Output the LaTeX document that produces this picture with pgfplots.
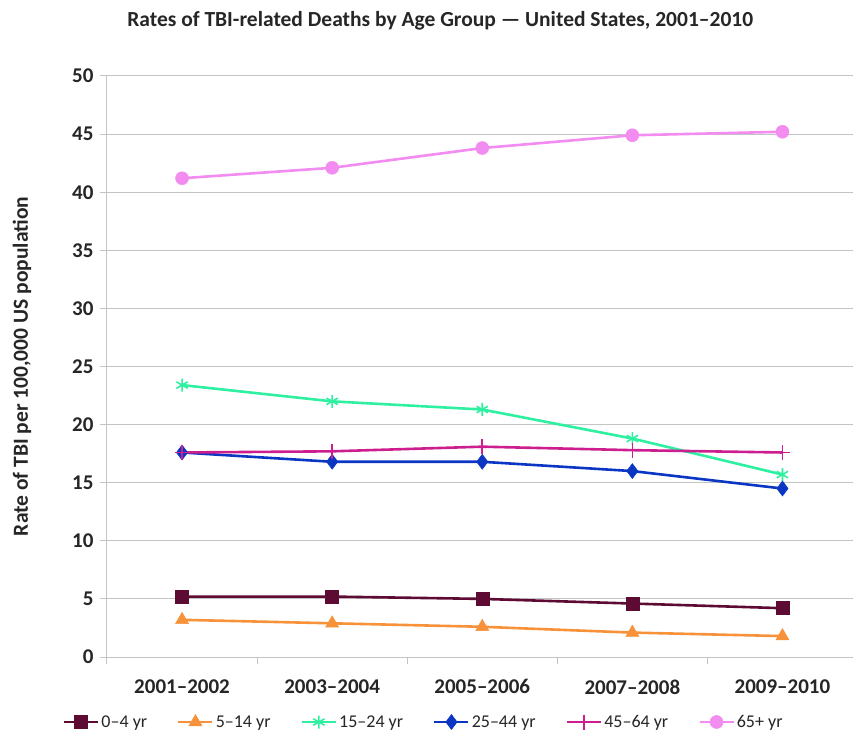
\documentclass[border=0pt]{standalone}
\usepackage{fontspec}
\setmainfont{Carlito}
\usepackage{pgfplots}
\pgfplotsset{compat=1.18}

\definecolor{cMaroon}{HTML}{5E0B33}
\definecolor{cOrange}{HTML}{F7923A}
\definecolor{cMint}{HTML}{2EF0A0}
\definecolor{cBlue}{HTML}{0B36C4}
\definecolor{cMagenta}{HTML}{CC1E8E}
\definecolor{cPink}{HTML}{F28CF0}
\definecolor{cGrid}{HTML}{C4C4C4}

\begin{document}
\begin{tikzpicture}
\path[use as bounding box] (-107pt,-79pt) rectangle (746pt,657pt);
\begin{axis}[
  at={(0pt,0pt)}, anchor=south west,
  scale only axis,
  width=746pt, height=581pt,
  xmin=-0.5, xmax=4.47,
  ymin=0, ymax=50,
  axis x line*=bottom, axis y line*=left,
  axis line style={cGrid, line width=1pt},
  xtick={0,1,2,3,4},
  xticklabels={2001--2002,2003--2004,2005--2006,2007--2008,2009--2010},
  major x tick style={draw=none},
  minor xtick={-0.5,0.5,1.5,2.5,3.5},
  minor x tick style={cGrid, line width=1pt},
  minor tick length=7pt,
  ytick={0,5,...,50},
  ymajorgrids,
  grid style={cGrid, line width=1pt},
  major y tick style={cGrid, line width=1pt},
  major tick length=7pt,
  tick align=outside,
  tick label style={font=\fontsize{21}{23}\selectfont\bfseries, text=black!85},
  /pgf/number format/assume math mode=true,
  xticklabel style={yshift=-12pt},
  yticklabel style={xshift=-3pt},
  ylabel={Rate of TBI per 100,000 US population},
  ylabel style={at={(axis description cs:-0.114,0.5)}, anchor=center,
    font=\fontsize{21.5}{23}\selectfont\bfseries, text=black!85},
  title={Rates of TBI-related Deaths by Age Group — United States, 2001–2010},
  title style={at={(axis cs:1.72,50)}, yshift=49pt, anchor=center,
    font=\fontsize{21.5}{23}\selectfont\bfseries, text=black!85},
  legend columns=6,
  legend style={at={(axis cs:1.61,0)}, yshift=-65pt, anchor=center, draw=none,
    font=\fontsize{18}{20}\selectfont, text=black!85,
    /tikz/every even column/.append style={column sep=28pt}},
  legend image code/.code={
    \draw[mark repeat=2,mark phase=2] plot coordinates {(0pt,0pt) (17pt,0pt) (34pt,0pt)};},
  every axis plot/.append style={line width=2.6pt},
  clip=false,
]
\addplot[cMaroon, mark=square*, mark size=6.5pt, mark options={line width=0.5pt}]
  coordinates {(0,5.2) (1,5.2) (2,5.0) (3,4.6) (4,4.2)};
\addlegendentry{0–4 yr}
\addplot[cOrange, mark=triangle*, mark size=7.5pt, mark options={line width=0.5pt}]
  coordinates {(0,3.2) (1,2.9) (2,2.6) (3,2.1) (4,1.8)};
\addlegendentry{5–14 yr}
\addplot[cMint, mark=asterisk, mark size=6.5pt, mark options={line width=1.6pt}]
  coordinates {(0,23.4) (1,22.0) (2,21.3) (3,18.8) (4,15.7)};
\addlegendentry{15–24 yr}
\addplot[cBlue, mark=diamond*, mark size=7.5pt, mark options={line width=0.5pt}]
  coordinates {(0,17.6) (1,16.8) (2,16.8) (3,16.0) (4,14.5)};
\addlegendentry{25–44 yr}
\addplot[cMagenta, mark=+, mark size=7.5pt, mark options={line width=1.6pt}]
  coordinates {(0,17.6) (1,17.7) (2,18.1) (3,17.8) (4,17.6)};
\addlegendentry{45–64 yr}
\addplot[cPink, mark=*, mark size=6.5pt, mark options={line width=0.5pt}]
  coordinates {(0,41.2) (1,42.1) (2,43.8) (3,44.9) (4,45.2)};
\addlegendentry{65+ yr}
\end{axis}
\end{tikzpicture}
\end{document}
